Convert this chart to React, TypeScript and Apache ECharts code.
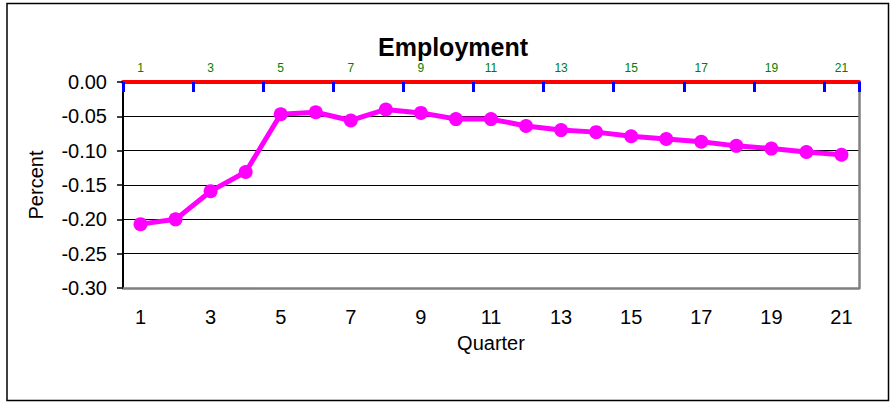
import { useEffect, useRef } from "react";
import * as echarts from "echarts";

// Quarters 1..21 and employment deviation in percent
const QUARTERS = Array.from({ length: 21 }, (_, i) => String(i + 1));
const EMPLOYMENT = [
  -0.207, -0.2, -0.159, -0.131, -0.047, -0.044, -0.056, -0.04, -0.045, -0.054,
  -0.054, -0.064, -0.07, -0.073, -0.079, -0.083, -0.087, -0.093, -0.097, -0.102,
  -0.106,
];

const FONT = "'Liberation Sans', Arial, Helvetica, sans-serif";

export default function App() {
  const chartRef = useRef<HTMLDivElement>(null);

  useEffect(() => {
    if (!chartRef.current) return;
    const chart = echarts.init(chartRef.current, undefined, { renderer: "svg" });

    chart.setOption({
      animation: false,
      backgroundColor: "#ffffff",
      title: {
        text: "Employment",
        left: 448,
        top: 29,
        textAlign: "center",
        textStyle: { fontFamily: FONT, fontSize: 25, fontWeight: "bold", color: "#000" },
      },
      graphic: [
        {
          type: "rect",
          shape: { x: 7, y: 3.5, width: 881.5, height: 397 },
          style: { fill: "none", stroke: "#000", lineWidth: 1.5 },
          silent: true,
        },
      ],
      grid: { left: 123, top: 82, right: 31, bottom: 114 },
      xAxis: [
        {
          type: "category",
          data: QUARTERS,
          position: "bottom",
          axisLine: { show: true, onZero: false, lineStyle: { color: "#808080", width: 2.5 } },
          axisTick: { show: false },
          axisLabel: { interval: 1, fontSize: 20, color: "#000", margin: 19, fontFamily: FONT },
          name: "Quarter",
          nameLocation: "middle",
          nameGap: 45,
          nameTextStyle: { fontSize: 20, color: "#000", fontFamily: FONT },
        },
        {
          type: "category",
          data: QUARTERS,
          position: "top",
          axisLine: { show: true, onZero: false, lineStyle: { color: "red", width: 4 } },
          axisTick: { show: true, inside: true, length: 10, interval: 1, lineStyle: { color: "blue", width: 3 } },
          axisLabel: { show: true, interval: 1, color: "green" },
        },
      ],
      yAxis: [
        {
          type: "value",
          min: -0.3,
          max: 0,
          interval: 0.05,
          position: "left",
          axisLine: { show: true, onZero: false, lineStyle: { color: "#000", width: 2 } },
          axisTick: { show: true, length: 6, lineStyle: { color: "#000", width: 1.5 } },
          axisLabel: {
            fontSize: 20,
            color: "#000",
            margin: 16,
            fontFamily: FONT,
            formatter: (v: number) => v.toFixed(2),
          },
          splitLine: { show: true, showMinLine: false, lineStyle: { color: "#000", width: 1 } },
          name: "Percent",
          nameLocation: "middle",
          nameGap: 77,
          nameRotate: 90,
          nameTextStyle: { fontSize: 20, color: "#000", fontFamily: FONT },
        },
        {
          type: "value",
          min: -0.3,
          max: 0,
          interval: 0.05,
          position: "right",
          axisLine: { show: true, onZero: false, lineStyle: { color: "#808080", width: 2.5 } },
          axisTick: { show: false },
          axisLabel: { show: false },
          splitLine: { show: false },
        },
      ],
      series: [
        {
          name: "axisTop",
          type: "line",
          xAxisIndex: 1,
          yAxisIndex: 0,
          data: EMPLOYMENT,
          symbol: "none",
          silent: true,
          lineStyle: { opacity: 0 },
        },
        {
          name: "Employment",
          type: "line",
          xAxisIndex: 0,
          yAxisIndex: 0,
          data: EMPLOYMENT,
          symbol: "circle",
          symbolSize: 14,
          lineStyle: { color: "#ff00ff", width: 5 },
          itemStyle: { color: "#ff00ff" },
        },
      ],
    });

    return () => {
      chart.dispose();
    };
  }, []);

  return (
    <div
      ref={chartRef}
      style={{ position: "fixed", left: 0, top: 0, width: 890, height: 402, background: "#fff" }}
    />
  );
}
